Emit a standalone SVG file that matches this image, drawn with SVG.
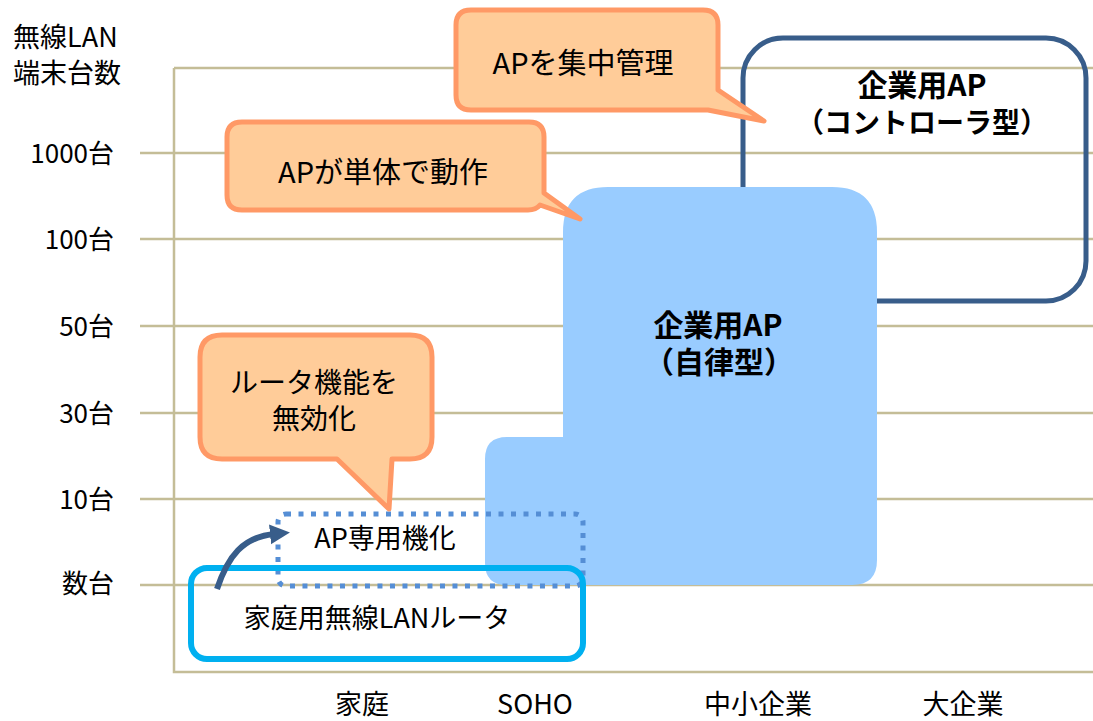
<svg xmlns="http://www.w3.org/2000/svg" width="1093" height="721" viewBox="0 0 1093 721">
<style>
text{font-family:"Noto Sans CJK JP","Noto Sans",sans-serif;fill:#000;}
.ax{font-size:26px;}
.lb{font-size:27px;}
.co{font-size:29px;text-anchor:middle;}
.bd{font-size:30px;font-weight:bold;text-anchor:middle;}
.grid{stroke:#C4BD97;stroke-width:2.5;fill:none;}
.callout{fill:#FFCC99;stroke:#FF9966;stroke-width:5;stroke-linejoin:round;}
</style>
<defs>
<marker id="ah" markerUnits="userSpaceOnUse" markerWidth="24" markerHeight="24" refX="4" refY="10" orient="auto" viewBox="0 0 24 20">
<path d="M0,0 L20,10 L0,20 Z" fill="#385D8A"/>
</marker>
</defs>
<rect width="1093" height="721" fill="#fff"/>
<g id="axes">
<path class="grid" d="M174,68 V672 H1093 M174,68 H1093 M140,153 H1093 M140,239 H1093 M140,326 H1093 M140,413 H1093 M140,499 H1093 M140,585 H1093"/>
<text class="lb" x="13" y="47">無線LAN</text>
<text class="lb" x="13" y="83">端末台数</text>
<text class="ax" x="114" y="163" text-anchor="end">1000台</text>
<text class="ax" x="114" y="249" text-anchor="end">100台</text>
<text class="ax" x="114" y="336" text-anchor="end">50台</text>
<text class="ax" x="114" y="423" text-anchor="end">30台</text>
<text class="ax" x="114" y="509" text-anchor="end">10台</text>
<text class="ax" x="114" y="593" text-anchor="end">数台</text>
<text class="lb" x="362" y="714" text-anchor="middle">家庭</text>
<text class="lb" x="535" y="714" text-anchor="middle">SOHO</text>
<text class="lb" x="758" y="714" text-anchor="middle">中小企業</text>
<text class="lb" x="963" y="714" text-anchor="middle">大企業</text>
</g>
<g id="controller">
<rect x="743" y="38" width="343" height="263" rx="40" fill="none" stroke="#385D8A" stroke-width="5"/>
<text class="bd" x="922" y="96">企業用AP</text>
<text class="bd" x="922" y="133" style="font-size:28px">（コントローラ型）</text>
</g>
<g id="autonomous">
<path d="M608,187 H832 Q877,187 877,232 V560 Q877,585 852,585 H507 Q485,585 485,563 V459 Q485,437 507,437 H563 V232 Q563,187 608,187 Z" fill="#99CCFF"/>
<text class="bd" x="718" y="336">企業用AP</text>
<text class="bd" x="719" y="373">（自律型）</text>
</g>
<g id="ap-dedicated">
<rect x="278" y="514" width="305" height="72" rx="8" fill="none" stroke="#558ED5" stroke-width="5" stroke-dasharray="5 7.5"/>
<text class="lb" x="385" y="548" text-anchor="middle">AP専用機化</text>
</g>
<g id="home-router">
<rect x="191" y="568" width="392" height="91" rx="16" fill="none" stroke="#00B0F0" stroke-width="6"/>
<text class="lb" x="377" y="628" text-anchor="middle">家庭用無線LANルータ</text>
</g>
<g id="connectors">
<path d="M217,589 C228,556 243,537 274,534" fill="none" stroke="#385D8A" stroke-width="6" marker-end="url(#ah)"/>
</g>
<g id="callout-central">
<path class="callout" d="M471,10 H703 Q718,10 718,25 V90 L764,121 L708,110 H471 Q456,110 456,95 V25 Q456,10 471,10 Z"/>
<text class="co" x="583" y="74">APを集中管理</text>
</g>
<g id="callout-standalone">
<path class="callout" d="M242,122 H529 Q544,122 544,137 V193 L580,219 L540,205 Q536,210 528,210 H242 Q227,210 227,195 V137 Q227,122 242,122 Z"/>
<text class="co" x="383" y="183">APが単体で動作</text>
</g>
<g id="callout-router">
<path class="callout" d="M222,335 H410 Q432,335 432,357 V437 Q432,459 410,459 H392 L389,509 L337,459 H222 Q200,459 200,437 V357 Q200,335 222,335 Z"/>
<text class="co" x="314" y="393" style="font-size:28px">ルータ機能を</text>
<text class="co" x="314" y="429" style="font-size:28px">無効化</text>
</g>
</svg>
